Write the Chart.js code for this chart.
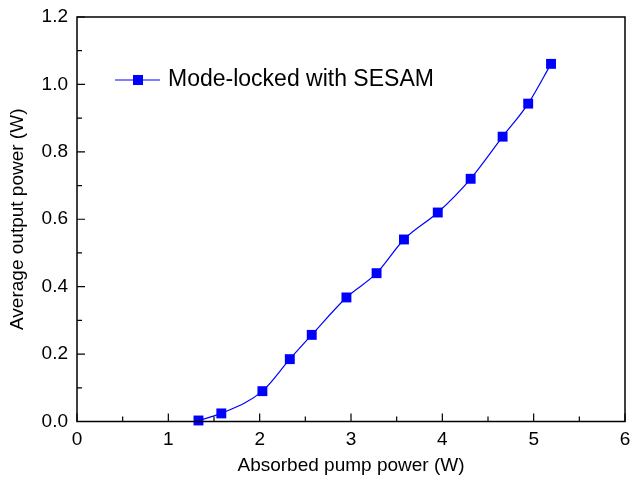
<!DOCTYPE html>
<html>
<head>
<meta charset="utf-8">
<script src="https://cdn.jsdelivr.net/npm/chart.js@4.4.1/dist/chart.umd.min.js"></script>
<style>
  html, body { margin: 0; padding: 0; background: #fff; }
</style>
</head>
<body>
<canvas id="myChart" width="632" height="481"></canvas>
<script>
// data
var pumpPower = [1.33, 1.58, 2.03, 2.33, 2.57, 2.95, 3.28, 3.58, 3.95, 4.31, 4.66, 4.94, 5.19];
var outputPower = [0.003, 0.024, 0.09, 0.185, 0.257, 0.368, 0.44, 0.54, 0.62, 0.72, 0.845, 0.943, 1.061];
var seriesName = 'Mode-locked with SESAM';
var xTickLabels = ['0', '1', '2', '3', '4', '5', '6'];
var yTickLabels = ['0.0', '0.2', '0.4', '0.6', '0.8', '1.0', '1.2'];

var FONT = '"Liberation Sans", Arial, sans-serif';
var BLUE = '#0000ff';

var points = pumpPower.map(function(x, i){ return {x: x, y: outputPower[i]}; });

// frame + inward ticks
var frameTicks = {
  id: 'frameTicks',
  afterDatasetsDraw: function(chart){
    var ctx = chart.ctx, a = chart.chartArea;
    var xs = chart.scales.x, ys = chart.scales.y;
    ctx.save();
    ctx.strokeStyle = '#000';
    ctx.lineWidth = 1.5;
    ctx.strokeRect(a.left, a.top, a.right - a.left, a.bottom - a.top);
    ctx.lineWidth = 1.2;
    ctx.beginPath();
    xs.ticks.forEach(function(t){
      var px = xs.getPixelForValue(t.value);
      var major = xTickLabels.indexOf(String(Math.round(t.value * 10) / 10)) >= 0;
      var len = major ? 8 : 5;
      ctx.moveTo(px, a.bottom);
      ctx.lineTo(px, a.bottom - len);
    });
    ys.ticks.forEach(function(t){
      var py = ys.getPixelForValue(t.value);
      var major = yTickLabels.indexOf(t.value.toFixed(1)) >= 0;
      var len = major ? 8 : 5;
      ctx.moveTo(a.left, py);
      ctx.lineTo(a.left + len, py);
    });
    ctx.stroke();
    ctx.restore();
  }
};

// legend inside the plot
var innerLegend = {
  id: 'innerLegend',
  afterDraw: function(chart){
    var ctx = chart.ctx;
    var y = 80;
    ctx.save();
    ctx.strokeStyle = BLUE;
    ctx.lineWidth = 1.2;
    ctx.beginPath();
    ctx.moveTo(115, y);
    ctx.lineTo(160, y);
    ctx.stroke();
    ctx.fillStyle = BLUE;
    ctx.fillRect(133, y - 5, 10, 10);
    ctx.fillStyle = '#000';
    ctx.font = '23px ' + FONT;
    ctx.textBaseline = 'middle';
    ctx.fillText(seriesName, 168, y);
    ctx.restore();
  }
};

new Chart(document.getElementById('myChart'), {
  type: 'line',
  data: {
    datasets: [{
      label: seriesName,
      data: points,
      borderColor: BLUE,
      backgroundColor: BLUE,
      borderWidth: 1.2,
      pointStyle: 'rect',
      pointRadius: 7,
      pointBorderWidth: 0,
      cubicInterpolationMode: 'monotone',
      clip: false
    }]
  },
  options: {
    responsive: false,
    animation: false,
    layout: { padding: { top: 17, right: 5, left: 0, bottom: 0 } },
    plugins: { legend: { display: false }, tooltip: { enabled: false } },
    scales: {
      x: {
        type: 'linear', min: 0, max: 6,
        grid: { display: false, drawTicks: false },
        border: { display: false },
        ticks: {
          stepSize: 0.5, autoSkip: false, maxRotation: 0, padding: 7,
          color: '#000', font: { family: FONT, size: 19 },
          callback: function(v){
            var s = String(Math.round(v * 10) / 10);
            return xTickLabels.indexOf(s) >= 0 ? s : '';
          }
        },
        title: {
          display: true, text: 'Absorbed pump power (W)', color: '#000',
          font: { family: FONT, size: 19 }, padding: { top: 0, bottom: 4 }
        },
        afterFit: function(s){ s.height = 59.5; s.paddingLeft = 0; s.paddingRight = 0; }
      },
      y: {
        type: 'linear', min: 0, max: 1.2,
        grid: { display: false, drawTicks: false },
        border: { display: false },
        ticks: {
          stepSize: 0.1, autoSkip: false, padding: 9,
          color: '#000', font: { family: FONT, size: 19 },
          callback: function(v){
            var s = v.toFixed(1);
            return yTickLabels.indexOf(s) >= 0 ? s : '';
          }
        },
        title: {
          display: true, text: 'Average output power (W)', color: '#000',
          font: { family: FONT, size: 19 }, padding: { top: 6, bottom: 0 }
        },
        afterFit: function(s){ s.width = 77; s.paddingTop = 0; s.paddingBottom = 0; }
      }
    }
  },
  plugins: [frameTicks, innerLegend]
});
</script>
</body>
</html>
